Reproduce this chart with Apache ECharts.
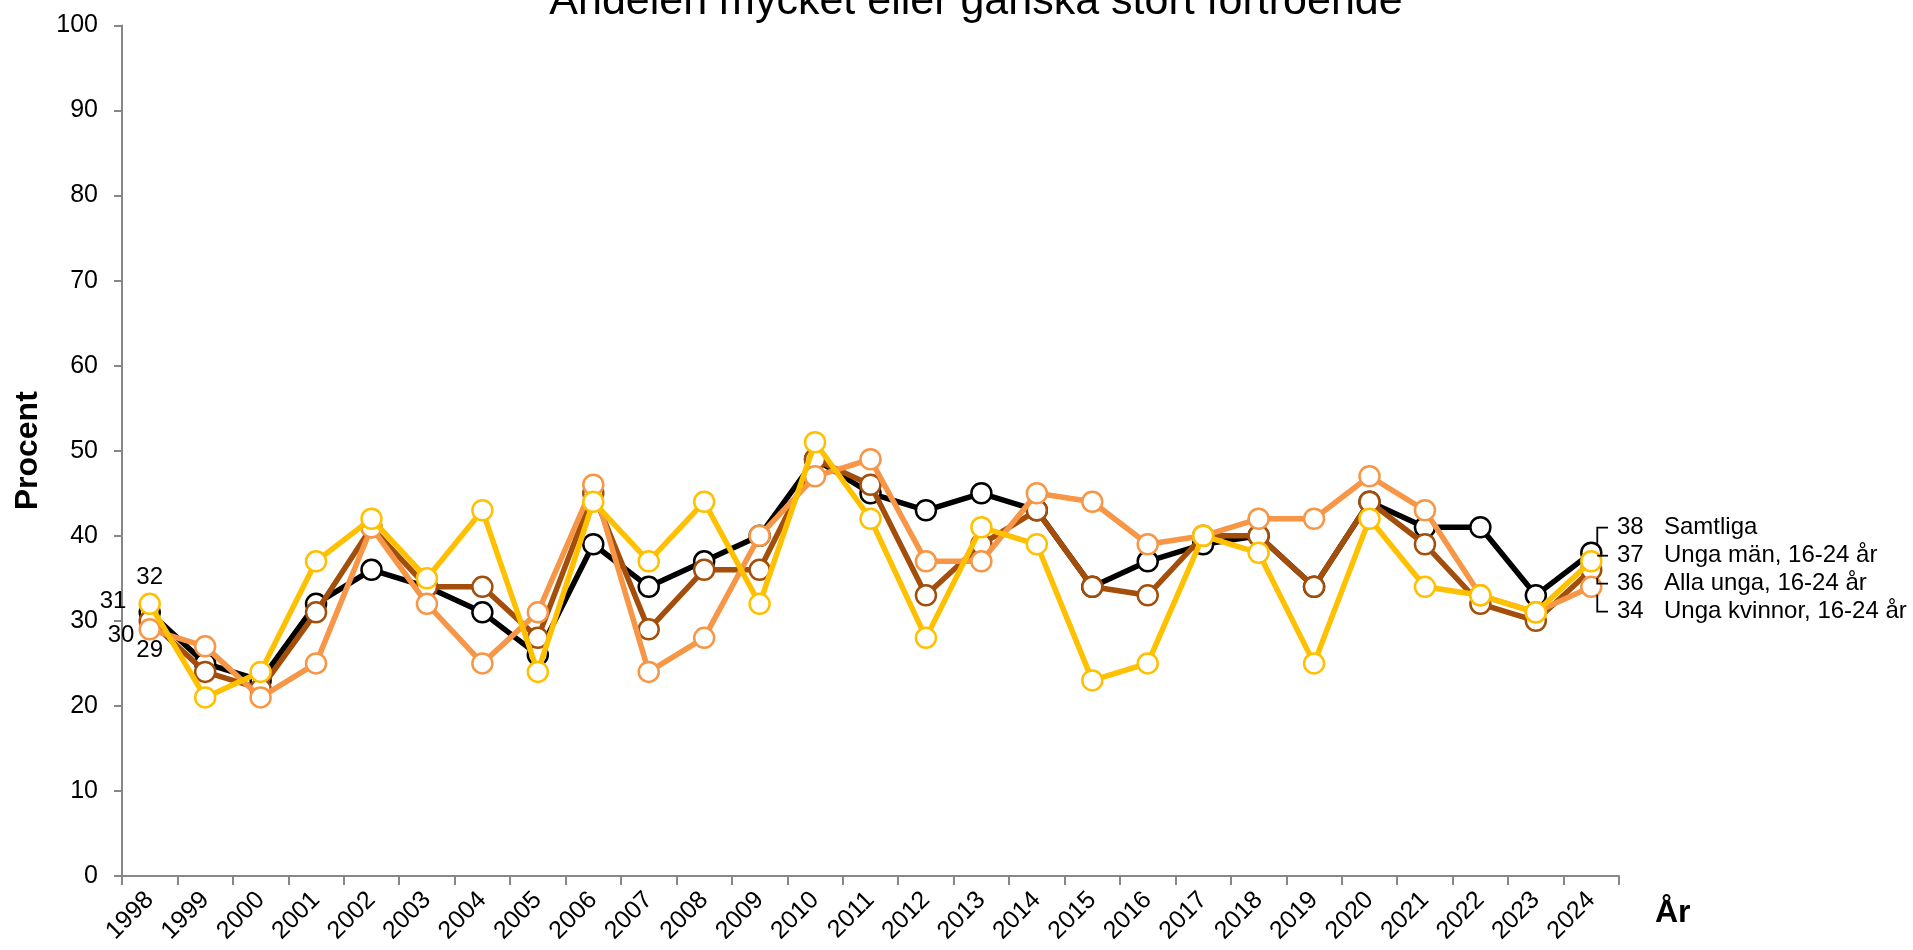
<!DOCTYPE html>
<html>
<head>
<meta charset="utf-8">
<script src="https://cdn.jsdelivr.net/npm/echarts@6/dist/echarts.min.js"></script>
<style>
  html, body { margin: 0; padding: 0; background: #ffffff; }
  #chart { width: 1913px; height: 950px; }
</style>
</head>
<body>
<div id="chart"></div>
<script>
// Survey years
const years = ['1998','1999','2000','2001','2002','2003','2004','2005','2006','2007','2008','2009','2010',
  '2011','2012','2013','2014','2015','2016','2017','2018','2019','2020','2021','2022','2023','2024'];

// Share (%) with very or fairly high confidence
const samtliga    = [31,25,23,32,36,34,31,26,39,34,37,40,49,45,43,45,43,34,37,39,40,34,44,41,41,33,38];
const allaUnga    = [30,24,22,31,41,34,34,28,45,29,36,36,49,46,33,39,43,34,33,40,40,34,44,39,32,30,36];
const ungaKvinnor = [29,27,21,25,41,32,25,31,46,24,28,40,47,49,37,37,45,44,39,40,42,42,47,43,33,31,34];
const ungaMan     = [32,21,24,37,42,35,43,24,44,37,44,32,51,42,28,41,39,23,25,40,38,25,42,34,33,31,37];

const yTicks = [0, 100, 10]; // min, max, step

const FONT = '"Liberation Sans", Arial, Helvetica, sans-serif';

// drawing order: first is at the bottom
const groups = [
  { name: 'Samtliga',               values: samtliga,    color: '#000000',
    first: { position: 'left', distance: 12 }, shift: [0, -11] },
  { name: 'Alla unga, 16-24 år',    values: allaUnga,    color: '#A34F0B',
    first: { position: 'left', distance: 4 }, shift: [0, 15] },
  { name: 'Unga kvinnor, 16-24 år', values: ungaKvinnor, color: '#F79646',
    first: { position: 'bottom', distance: -2 }, shift: [0, 0] },
  { name: 'Unga män, 16-24 år',     values: ungaMan,     color: '#FFC000',
    first: { position: 'top', distance: 3 }, shift: [0, 0] }
];

const last = years.length - 1;
let endSlots = {};       // seriesIndex -> {x, y}
const LABEL_X = 1617;
const LABEL_STEP = 28;

const chart = echarts.init(document.getElementById('chart'), null, { renderer: 'canvas' });

function labelLayout(params) {
  if (params.dataIndex === 0) {
    const sh = groups[params.seriesIndex].shift;
    return { dx: sh[0], dy: sh[1] };
  }
  if (params.dataIndex !== last) return;
  const s = endSlots[params.seriesIndex];
  if (!s) return;
  return { x: s.x, y: s.y, align: 'left', verticalAlign: 'middle' };
}

function buildSeries() {
  return groups.map((g, si) => ({
    name: g.name,
    type: 'line',
    z: 2 + si,
    data: g.values.map((v, i) => {
      const item = { value: v };
      if (i === 0) {
        item.label = Object.assign({ show: true, formatter: '{c}' }, g.first);
      } else if (i === last) {
        item.label = {
          show: true,
          formatter: (p) => '{n|' + p.value + '}{s|' + g.name + '}',
          rich: {
            n: { width: 47, fontSize: 24, fontFamily: FONT, color: '#000' },
            s: { fontSize: 24, fontFamily: FONT, color: '#000' }
          }
        };
      }
      return item;
    }),
    symbol: 'circle',
    symbolSize: 20,
    showAllSymbol: true,
    itemStyle: { color: '#ffffff', borderColor: g.color, borderWidth: 2.5 },
    lineStyle: { color: g.color, width: 5.5 },
    label: { show: false, color: '#000', fontSize: 24, fontFamily: FONT },
    labelLayout: labelLayout,
    emphasis: { disabled: true }
  }));
}

const option = {
  animation: false,
  backgroundColor: '#ffffff',
  textStyle: { fontFamily: FONT },
  title: {
    text: 'Andelen mycket eller ganska stort förtroende',
    left: 971,
    textAlign: 'center',
    top: -24,
    textStyle: { fontSize: 43, fontWeight: 'normal', color: '#000', fontFamily: FONT }
  },
  grid: { left: 122, right: 294, top: 25.5, bottom: 74, containLabel: false },
  xAxis: {
    type: 'category',
    data: years,
    boundaryGap: true,
    axisLine: { lineStyle: { color: '#878787', width: 2 } },
    axisTick: { show: true, alignWithLabel: false, length: 9, lineStyle: { color: '#878787', width: 2 } },
    axisLabel: { rotate: 45, margin: 20, fontSize: 25, color: '#000', fontFamily: FONT, interval: 0 },
    splitLine: { show: false }
  },
  yAxis: {
    type: 'value',
    min: yTicks[0], max: yTicks[1], interval: yTicks[2],
    name: 'Procent',
    nameLocation: 'middle',
    nameGap: 78,
    nameTextStyle: { fontSize: 32, fontWeight: 'bold', color: '#000', fontFamily: FONT },
    axisLine: { show: true, lineStyle: { color: '#878787', width: 2 } },
    axisTick: { show: true, length: 8, lineStyle: { color: '#878787', width: 2 } },
    axisLabel: { margin: 24, fontSize: 25, color: '#000', fontFamily: FONT },
    splitLine: { show: false }
  },
  series: buildSeries()
};

chart.setOption(option);

// place the end labels in a stacked column next to the last year, with elbow leader lines
const pts = groups.map((g, si) => chart.convertToPixel({ gridIndex: 0 }, [last, g.values[last]]));
const meanY = pts.reduce((a, p) => a + p[1], 0) / pts.length;
const order = groups.map((g, si) => si).sort((a, b) => groups[b].values[last] - groups[a].values[last]);
order.forEach((si, rank) => {
  endSlots[si] = { x: LABEL_X, y: meanY + 2 + (rank - (order.length - 1) / 2) * LABEL_STEP };
});

const r = 10;
const leaders = groups.map((g, si) => {
  const p = pts[si];
  const ly = endSlots[si].y;
  const lx = p[0] + 6;
  const half = Math.sqrt(r * r - 36);
  let yEnd;
  if (ly < p[1] - half) yEnd = p[1] - half;
  else if (ly > p[1] + half) yEnd = p[1] + half;
  else yEnd = ly;
  return {
    type: 'polyline',
    z: 100,
    shape: { points: [[LABEL_X - 9, ly], [lx, ly], [lx, yEnd]] },
    style: { stroke: '#000', lineWidth: 1.8, fill: null }
  };
});

// x axis title, set below the right end of the axis
const axisEnd = chart.convertToPixel({ gridIndex: 0 }, [last, 0]);
leaders.push({
  type: 'text',
  z: 100,
  x: 1655,
  y: axisEnd[1] + 37,
  style: {
    text: 'År', fontSize: 32, fontWeight: 'bold', fontFamily: FONT, fill: '#000',
    align: 'left', verticalAlign: 'middle'
  }
});

chart.setOption({ series: buildSeries(), graphic: leaders });
</script>
</body>
</html>
